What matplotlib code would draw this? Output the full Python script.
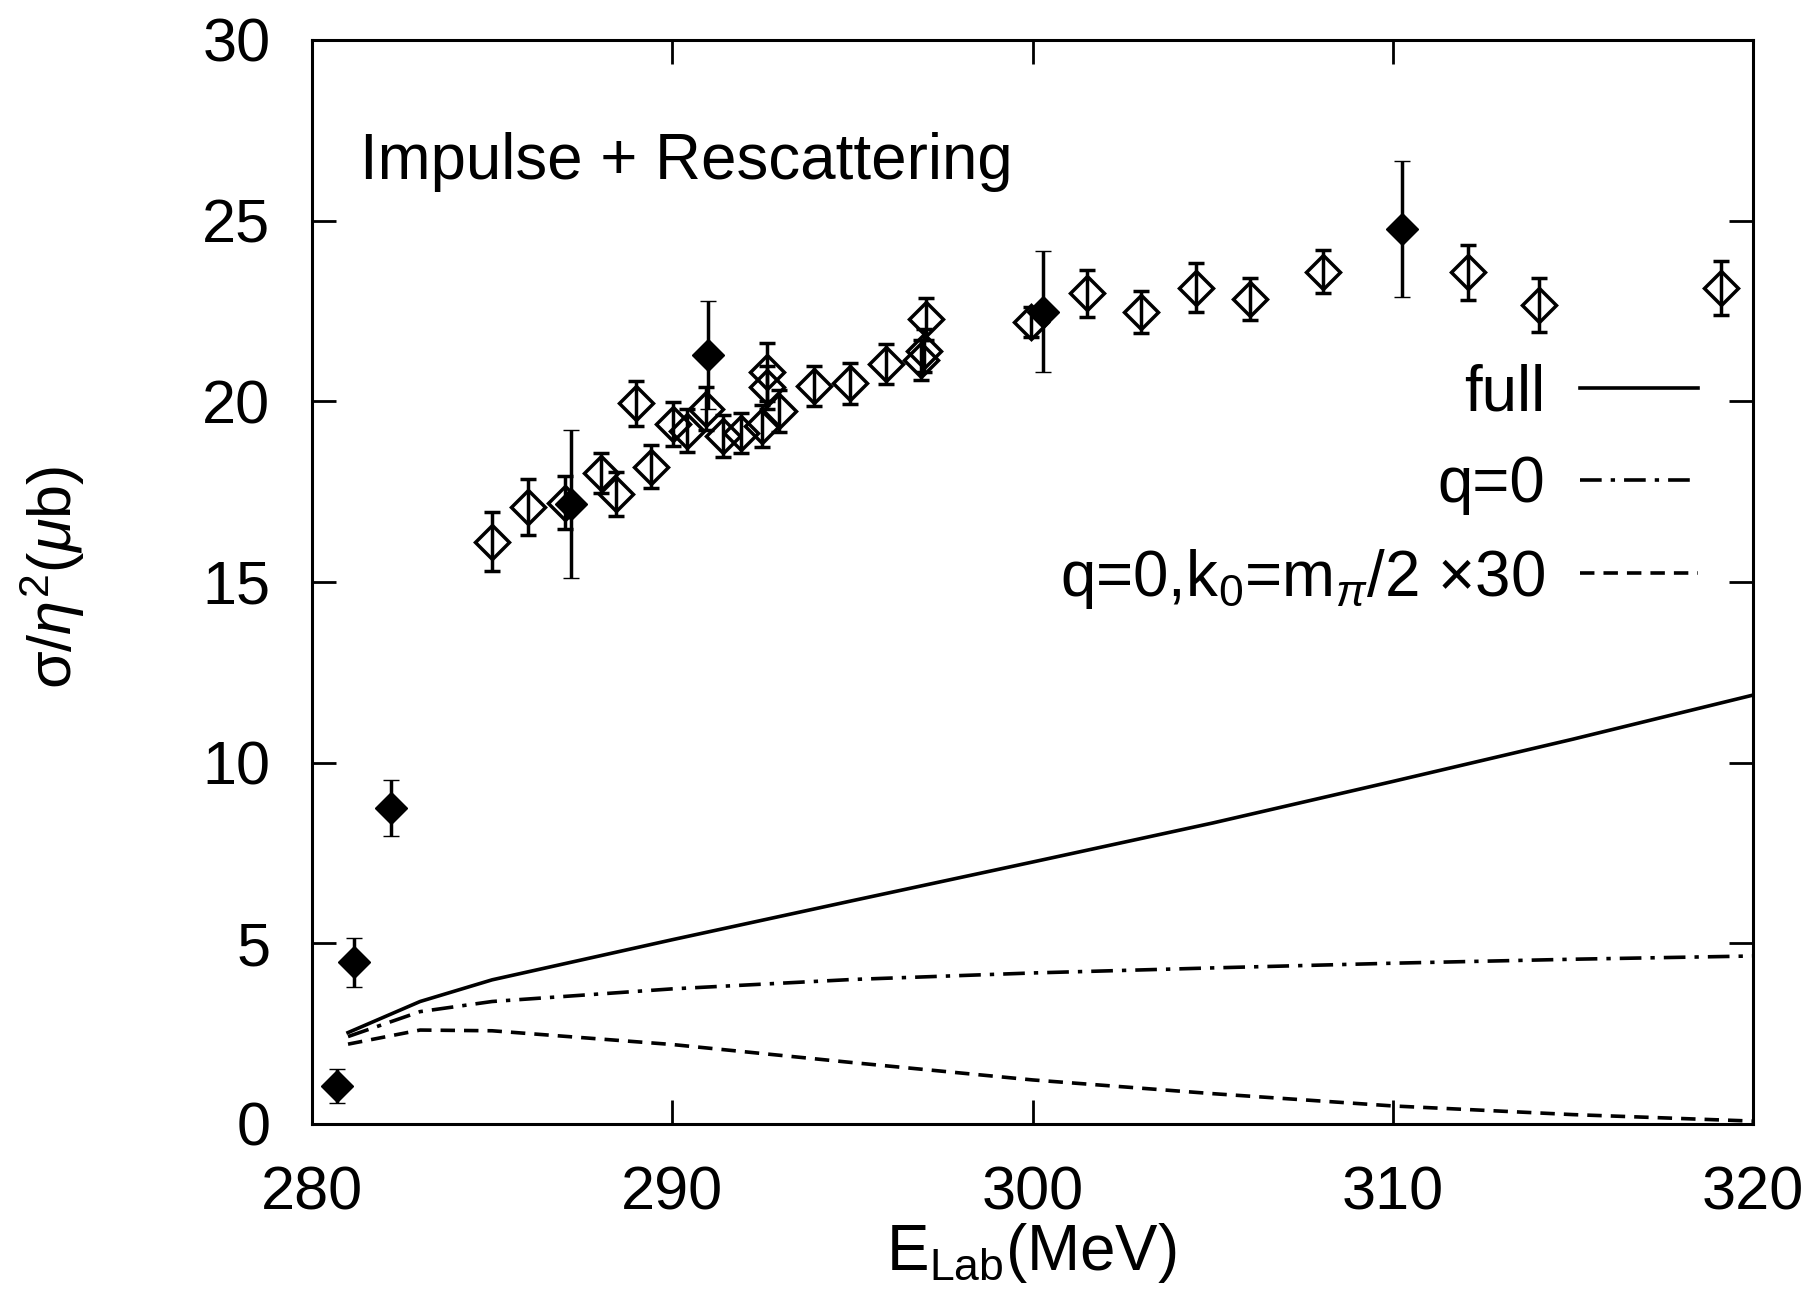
import matplotlib
matplotlib.use("Agg")
import matplotlib.pyplot as plt

plt.rcParams['font.family'] = ['Liberation Sans', 'DejaVu Sans']
plt.rcParams['mathtext.fontset'] = 'custom'
plt.rcParams['mathtext.rm'] = 'Liberation Sans'
plt.rcParams['mathtext.it'] = 'Liberation Sans:italic'
plt.rcParams['mathtext.bf'] = 'Liberation Sans:bold'

# ---- data ----
# open diamonds (data set 1)
open_E = [285.01, 286.0, 287.01, 288.02, 288.43, 289.0, 289.41, 290.01, 290.4, 290.95,
          291.4, 291.9, 292.5, 292.62, 292.62, 292.95, 293.94, 294.93, 295.92, 297.03,
          297.0, 296.9, 299.95, 301.52, 303.02, 304.53, 306.03, 308.05, 312.08, 314.07,
          319.12]
open_sig = [16.12, 17.07, 17.2, 18.01, 17.43, 19.95, 18.19, 19.37, 19.19, 19.8,
            19.05, 19.12, 19.32, 20.81, 20.39, 19.72, 20.43, 20.5, 21.04, 22.28,
            21.4, 21.15, 22.2, 22.99, 22.48, 23.15, 22.82, 23.59, 23.57, 22.67,
            23.13]
open_err = [0.82, 0.77, 0.74, 0.55, 0.61, 0.62, 0.6, 0.6, 0.6, 0.6,
            0.58, 0.55, 0.58, 0.8, 0.6, 0.58, 0.56, 0.57, 0.56, 0.58,
            0.6, 0.55, 0.42, 0.65, 0.58, 0.68, 0.58, 0.6, 0.76, 0.74,
            0.75]

# filled diamonds (data set 2)
fill_E = [280.69, 281.17, 282.18, 287.2, 291.0, 300.3, 310.25]
fill_sig = [1.05, 4.47, 8.74, 17.16, 21.28, 22.48, 24.77]
fill_err = [0.46, 0.69, 0.77, 2.06, 1.5, 1.68, 1.87]

# theory curves
curve_E = [281.0, 283.0, 285.0, 290.0, 295.0, 300.0, 305.0, 310.0, 315.0, 320.0]
full_sig = [2.53, 3.39, 3.99, 5.10, 6.18, 7.25, 8.33, 9.48, 10.65, 11.87]
q0_sig = [2.42, 3.11, 3.39, 3.74, 4.00, 4.18, 4.32, 4.45, 4.56, 4.65]
q0k0_sig = [2.21, 2.60, 2.58, 2.20, 1.70, 1.22, 0.84, 0.50, 0.26, 0.08]

x_ticks = [280, 290, 300, 310, 320]
y_ticks = [0, 5, 10, 15, 20, 25, 30]

FS = 44
FS_T = 45.8

fig = plt.figure(figsize=(18.11, 12.89), dpi=100)
ax = fig.add_axes([312/1811, 1 - 1124/1289, (1753-312)/1811, (1124-40)/1289])

lw_curve = 2.6
l1, = ax.plot(curve_E, full_sig, color='black', lw=lw_curve, ls='-', label='full')
l2, = ax.plot(curve_E, q0_sig, color='black', lw=lw_curve,
              ls=(0, (6, 2.5, 1.2, 2.5)), label='q=0')
l3, = ax.plot(curve_E, q0k0_sig, color='black', lw=lw_curve,
              ls=(0, (4, 2.5)), label=r'q=0,k$_0$=m$_{\mathit{π}}$/2 ×30')

ax.errorbar(open_E, open_sig, yerr=open_err, fmt='D', ms=17, mfc='none', mec='black',
            mew=2.5, ecolor='black', elinewidth=2.5, capsize=6, capthick=3.4, zorder=3)
ax.errorbar(fill_E, fill_sig, yerr=fill_err, fmt='D', ms=16.5, mfc='black', mec='black',
            mew=1.0, ecolor='black', elinewidth=2.5, capsize=6, capthick=3.4, zorder=4)

ax.set_xlim(280, 320)
ax.set_ylim(0, 30)
ax.set_xticks(x_ticks)
ax.set_yticks(y_ticks)
ax.tick_params(direction='in', length=17, width=2.0, labelsize=FS, top=True, right=True,
               pad=30)
for s in ax.spines.values():
    s.set_linewidth(2.2)

ax.text(0.0333, 0.8875, 'Impulse + Rescattering', transform=ax.transAxes,
        fontsize=FS_T, ha='left', va='center')

ax.set_xlabel(r'E$_{\mathrm{Lab}}$(MeV)', fontsize=FS_T, va='center')
ax.xaxis.set_label_coords(0.499, -0.119)
ax.set_ylabel(r'σ/$\mathit{η}^2$($\mathit{μ}$b)', fontsize=FS, va='center')
ax.yaxis.set_label_coords(-0.1804, 0.5046)

leg = ax.legend(handles=[l1, l2, l3], loc='upper right', bbox_to_anchor=(0.9618, 0.702),
                frameon=False, markerfirst=False, fontsize=FS_T, handlelength=1.85,
                handletextpad=0.55, labelspacing=0.5, borderpad=0, borderaxespad=0)

fig.savefig('out.png', dpi=100)
